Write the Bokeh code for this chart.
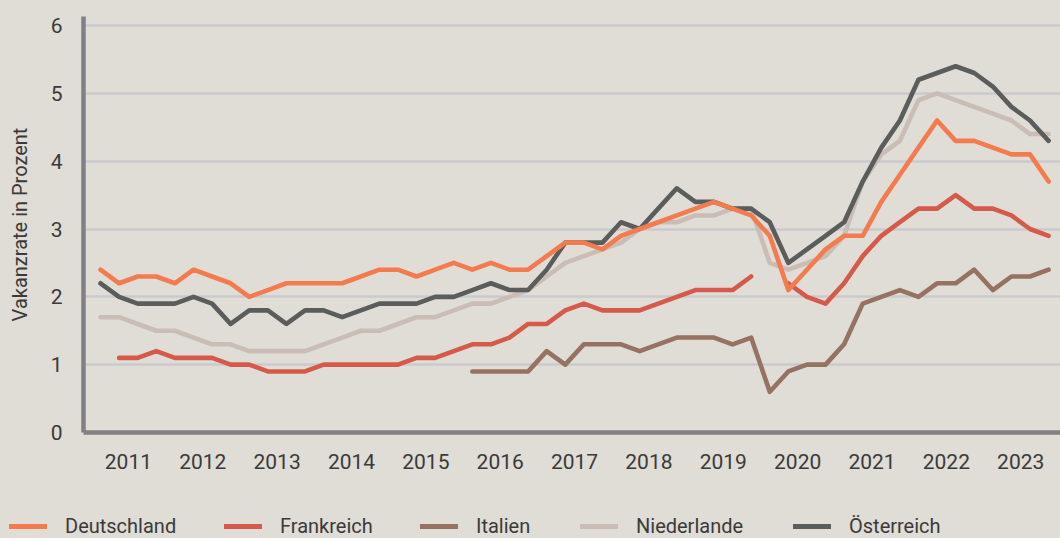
import numpy as np
from bokeh.plotting import figure
from bokeh.layouts import column
from bokeh.models import (Range1d, FixedTicker, CustomJSTickFormatter, Legend, LegendItem)
from bokeh.embed import file_html
from bokeh.resources import INLINE

# ---------------- data ----------------
years = list(range(2011, 2024))
quarters = [1, 2, 3, 4]
year_labels = [str(y) for y in years]
y_ticks = [0, 1, 2, 3, 4, 5, 6]

deutschland = [2.4, 2.2, 2.3, 2.3,  2.2, 2.4, 2.3, 2.2,  2.0, 2.1, 2.2, 2.2,
               2.2, 2.2, 2.3, 2.4,  2.4, 2.3, 2.4, 2.5,  2.4, 2.5, 2.4, 2.4,
               2.6, 2.8, 2.8, 2.7,  2.9, 3.0, 3.1, 3.2,  3.3, 3.4, 3.3, 3.2,
               2.9, 2.1, 2.4, 2.7,  2.9, 2.9, 3.4, 3.8,  4.2, 4.6, 4.3, 4.3,
               4.2, 4.1, 4.1, 3.7]
frankreich = [None, 1.1, 1.1, 1.2,  1.1, 1.1, 1.1, 1.0,  1.0, 0.9, 0.9, 0.9,
              1.0, 1.0, 1.0, 1.0,  1.0, 1.1, 1.1, 1.2,  1.3, 1.3, 1.4, 1.6,
              1.6, 1.8, 1.9, 1.8,  1.8, 1.8, 1.9, 2.0,  2.1, 2.1, 2.1, 2.3,
              None, 2.2, 2.0, 1.9,  2.2, 2.6, 2.9, 3.1,  3.3, 3.3, 3.5, 3.3,
              3.3, 3.2, 3.0, 2.9]
italien = [None] * 20 + [0.9, 0.9, 0.9, 0.9,  1.2, 1.0, 1.3, 1.3,  1.3, 1.2, 1.3, 1.4,
                         1.4, 1.4, 1.3, 1.4,  0.6, 0.9, 1.0, 1.0,  1.3, 1.9, 2.0, 2.1,
                         2.0, 2.2, 2.2, 2.4,  2.1, 2.3, 2.3, 2.4]
niederlande = [1.7, 1.7, 1.6, 1.5,  1.5, 1.4, 1.3, 1.3,  1.2, 1.2, 1.2, 1.2,
               1.3, 1.4, 1.5, 1.5,  1.6, 1.7, 1.7, 1.8,  1.9, 1.9, 2.0, 2.1,
               2.3, 2.5, 2.6, 2.7,  2.8, 3.0, 3.1, 3.1,  3.2, 3.2, 3.3, 3.3,
               2.5, 2.4, 2.5, 2.6,  2.9, 3.7, 4.1, 4.3,  4.9, 5.0, 4.9, 4.8,
               4.7, 4.6, 4.4, 4.4]
oesterreich = [2.2, 2.0, 1.9, 1.9,  1.9, 2.0, 1.9, 1.6,  1.8, 1.8, 1.6, 1.8,
               1.8, 1.7, 1.8, 1.9,  1.9, 1.9, 2.0, 2.0,  2.1, 2.2, 2.1, 2.1,
               2.4, 2.8, 2.8, 2.8,  3.1, 3.0, 3.3, 3.6,  3.4, 3.4, 3.3, 3.3,
               3.1, 2.5, 2.7, 2.9,  3.1, 3.7, 4.2, 4.6,  5.2, 5.3, 5.4, 5.3,
               5.1, 4.8, 4.6, 4.3]

series_names = ["Deutschland", "Frankreich", "Italien", "Niederlande", "Österreich"]
series_values = [deutschland, frankreich, italien, niederlande, oesterreich]
series_colors = ["#F47B50", "#D65A4B", "#967262", "#C9BDB6", "#5B5C5C"]

x = [y + (q - 1) / 4 for y in years for q in quarters]

# ---------------- style ----------------
BG = "#E0DCD6"
TXT = "#3A3A3A"
AXIS = "#818185"
GRID = "#C9C9CE"
FONT = "Roboto"
LW = 4.6

p = figure(width=1060, height=512, output_backend="svg", toolbar_location=None,
           x_range=Range1d(2010.771, 2023.91), y_range=Range1d(0, 6.133),
           min_border_left=83, min_border_right=0, min_border_top=16, min_border_bottom=80,
           background_fill_color=BG, border_fill_color=BG, outline_line_color=None,
           frame_align=False)

p.xgrid.grid_line_color = None
p.ygrid.ticker = FixedTicker(ticks=y_ticks[1:])
p.ygrid.grid_line_color = GRID
p.ygrid.grid_line_width = 2.5

p.yaxis.ticker = FixedTicker(ticks=y_ticks)
p.xaxis.ticker = FixedTicker(ticks=[y + 0.375 for y in years])
p.xaxis.formatter = CustomJSTickFormatter(args=dict(labels=year_labels, first=years[0]),
                                          code="return labels[Math.round(tick - 0.375 - first)];")
for ax in (p.xaxis[0], p.yaxis[0]):
    ax.axis_line_color = AXIS
    ax.axis_line_width = 4.5
    ax.major_tick_line_color = None
    ax.minor_tick_line_color = None
    ax.major_label_text_font = FONT
    ax.major_label_text_font_size = "21px"
    ax.major_label_text_color = TXT
p.xaxis.major_label_standoff = 15
p.yaxis.major_label_standoff = 15
p.yaxis.axis_label = "Vakanzrate in Prozent"
p.yaxis.axis_label_text_font = FONT
p.yaxis.axis_label_text_font_size = "20px"
p.yaxis.axis_label_text_font_style = "normal"
p.yaxis.axis_label_text_color = TXT
p.yaxis.axis_label_standoff = 16

draw_order = [3, 4, 2, 1, 0]
for k in draw_order:
    vals = [np.nan if v is None else v for v in series_values[k]]
    p.line(x, vals, line_color=series_colors[k], line_width=LW,
           line_join="round", line_cap="round")

# ---------------- legend strip ----------------
lg = figure(width=1060, height=26, output_backend="svg", toolbar_location=None,
            x_range=Range1d(0, 1), y_range=Range1d(0, 1), x_axis_type=None, y_axis_type=None,
            min_border_left=0, min_border_right=0, min_border_top=0, min_border_bottom=0,
            background_fill_color=BG, border_fill_color=BG, outline_line_color=None,
            frame_align=False)
lg.xgrid.grid_line_color = None
lg.ygrid.grid_line_color = None

legend_x = [9, 224, 420, 580, 793]
for k, name in enumerate(series_names):
    r = lg.line([np.nan], [np.nan], line_color=series_colors[k], line_width=5.2,
                line_cap="round")
    leg = Legend(items=[LegendItem(label=name, renderers=[r])],
                 location=(legend_x[k], 0), orientation="horizontal",
                 glyph_width=38, glyph_height=24, label_height=24, label_standoff=18,
                 padding=0, margin=0, spacing=0, border_line_color=None,
                 background_fill_alpha=0, label_text_font=FONT,
                 label_text_font_size="20px", label_text_color=TXT)
    lg.add_layout(leg)

page = column(p, lg, spacing=0, styles={"background-color": BG})
open("out.html", "w").write(file_html(page, INLINE))
